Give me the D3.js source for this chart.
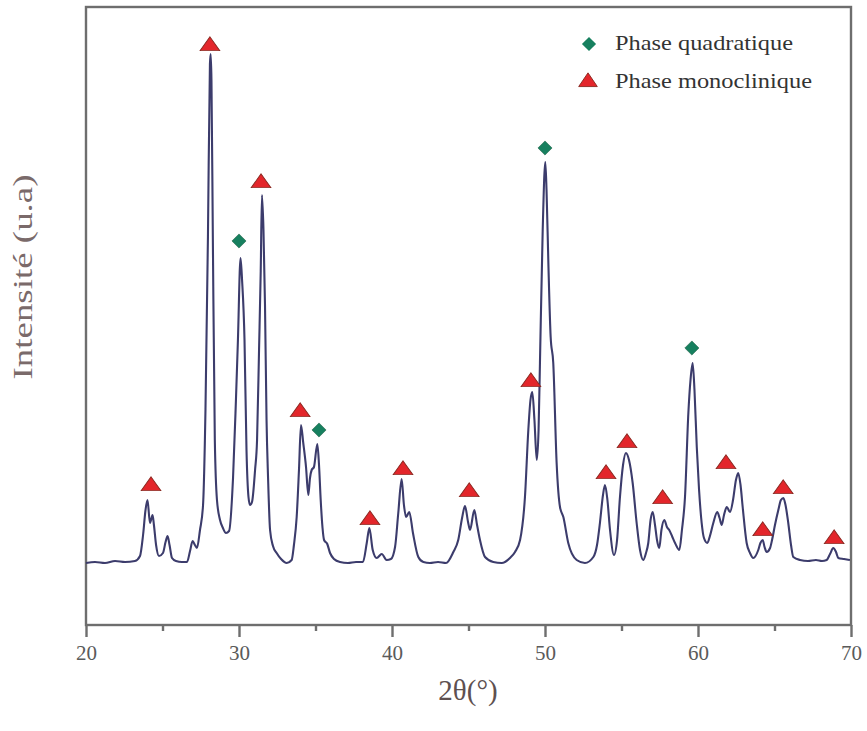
<!DOCTYPE html>
<html>
<head>
<meta charset="utf-8">
<script src="https://cdn.jsdelivr.net/npm/d3@7"></script>
<style>
html,body{margin:0;padding:0;background:#fff;}
svg{display:block;}
</style>
</head>
<body>
<svg id="chart" width="867" height="731"></svg>
<script>
// ---- data ----
const twoTheta = [20.00,20.59,21.24,21.90,22.55,23.20,23.53,23.73,23.89,24.02,24.18,24.35,24.44,24.58,24.77,25.03,25.20,25.33,25.46,25.62,25.88,26.27,26.60,26.80,26.97,27.12,27.25,27.45,27.65,27.81,27.97,28.10,28.15,28.20,28.29,28.42,28.56,28.76,28.95,29.15,29.35,29.61,29.80,29.93,30.10,30.20,30.36,30.49,30.62,30.72,30.85,31.05,31.18,31.31,31.42,31.50,31.60,31.70,31.80,31.90,32.03,32.22,32.46,32.75,33.12,33.44,33.59,33.77,33.92,34.05,34.20,34.38,34.53,34.64,34.75,34.90,35.12,35.23,35.34,35.46,35.56,35.77,35.95,36.21,36.60,37.12,37.65,38.10,38.35,38.52,38.74,39.00,39.33,39.65,39.93,40.20,40.41,40.63,40.78,40.92,41.13,41.37,41.72,42.05,42.48,43.01,43.53,44.01,44.33,44.58,44.77,44.97,45.10,45.38,45.56,45.75,46.08,46.62,47.17,47.71,48.04,48.37,48.69,48.91,49.05,49.17,49.31,49.46,49.58,49.67,49.85,50.02,50.10,50.22,50.37,50.54,50.76,50.98,51.20,51.52,52.07,52.61,53.16,53.40,53.59,53.79,53.92,54.08,54.25,54.51,54.71,54.90,55.10,55.29,55.49,55.73,55.99,56.21,56.42,56.60,56.75,56.90,57.04,57.19,57.32,57.47,57.61,57.80,57.97,58.12,58.30,58.50,58.78,58.95,59.15,59.37,59.51,59.65,59.77,59.92,60.07,60.24,60.39,60.61,60.78,61.00,61.26,61.41,61.55,61.70,61.88,62.09,62.29,62.48,62.63,62.78,62.92,63.18,63.40,63.61,63.94,64.08,64.23,64.35,64.49,64.71,64.84,65.03,65.25,65.42,65.58,65.72,65.90,66.08,66.23,66.67,67.19,67.71,68.10,68.41,68.63,68.84,69.02,69.17,69.54,69.93];
const intensity = [62,63,62,64,63,64,69,90,115,125,102,110,100,80,69,72,83,89,80,67,64,63,63,74,84,80,77,95,120,216,388,561,571,545,388,185,125,105,97,92,94,147,225,285,367,345,285,175,128,120,123,155,185,275,354,430,395,319,205,147,95,79,72,66,62,65,80,108,155,200,182,158,130,147,155,158,181,160,125,97,85,81,72,66,63,62,63,63,82,97,75,67,71,65,66,78,112,146,120,108,113,92,68,63,62,63,62,73,85,107,119,103,95,115,100,85,68,63,62,67,73,85,128,195,225,233,205,165,195,262,395,463,435,362,288,262,162,118,108,82,65,62,68,80,102,130,140,125,95,70,85,128,160,172,165,142,102,75,65,72,82,105,113,100,85,77,95,105,98,95,89,82,75,95,128,212,245,262,235,178,135,102,87,82,89,102,113,107,100,110,118,113,125,145,152,140,118,82,72,67,75,82,85,78,73,77,85,100,115,125,127,120,102,80,68,65,64,65,64,65,71,77,73,67,66,65];

const monoTheta = [24.25,28.10,31.44,34.0,38.56,40.72,45.05,49.08,53.99,55.36,57.69,61.83,64.23,65.57,68.9];
const monoLevel = [140,580,443,214,106,156,134,244,152,183,127,162,95,137,87];
const quadTheta = [30.0,35.23,50.0,59.6];
const quadLevel = [384,195,477,277];

const xMajorTicks = [20,30,40,50,60,70];
const xMinorTicks = [25,35,45,55,65];
const legendLabels = ["Phase quadratique","Phase monoclinique"];
const xTitle = "2θ(°)";
const yTitle = "Intensité (u.a)";

// ---- drawing ----
const svg = d3.select("#chart");
const x = d3.scaleLinear().domain([20,70]).range([86,851]);
const y = d3.scaleLinear().domain([0,618]).range([625,7]);

const serif = "Liberation Serif";
const frameColor = "#6e6e6e";

// frame
svg.append("rect")
  .attr("x", x(20)).attr("y", y(618))
  .attr("width", x(70)-x(20)).attr("height", y(0)-y(618))
  .attr("fill","none").attr("stroke",frameColor).attr("stroke-width",2.4);

// axes
const axMajor = d3.axisBottom(x).tickValues(xMajorTicks).tickSize(12).tickPadding(8).tickFormat(d3.format("d"));
const gMaj = svg.append("g").attr("transform",`translate(0,${y(0)})`).call(axMajor);
gMaj.attr("font-family",serif).attr("font-size",21);
gMaj.select(".domain").remove();
gMaj.selectAll(".tick line").attr("stroke",frameColor).attr("stroke-width",2.4);
gMaj.selectAll(".tick text").attr("fill","#5a5a5a");

const axMinor = d3.axisBottom(x).tickValues(xMinorTicks).tickSize(6).tickFormat("");
const gMin = svg.append("g").attr("transform",`translate(0,${y(0)})`).call(axMinor);
gMin.select(".domain").remove();
gMin.selectAll(".tick line").attr("stroke",frameColor).attr("stroke-width",2.4);

// curve
const pts = twoTheta.map((t,i)=>[t,intensity[i]]);
const line = d3.line().x(d=>x(d[0])).y(d=>y(d[1])).curve(d3.curveMonotoneX);
svg.append("path").datum(pts)
  .attr("d",line).attr("fill","none")
  .attr("stroke","#3c3c6c").attr("stroke-width",2.1).attr("stroke-linejoin","round");

// markers
const tri = d3.symbol().type(d3.symbolTriangle).size(150);
const dia = d3.symbol().type(d3.symbolSquare).size(100);
svg.append("g").selectAll("path").data(monoTheta.map((t,i)=>[t,monoLevel[i]])).join("path")
  .attr("d",tri)
  .attr("transform",d=>`translate(${x(d[0])},${y(d[1])+1}) scale(1.05,0.85)`)
  .attr("fill","#e3262b").attr("stroke","#8a2a22").attr("stroke-width",1);
svg.append("g").selectAll("path").data(quadTheta.map((t,i)=>[t,quadLevel[i]])).join("path")
  .attr("d",dia)
  .attr("transform",d=>`translate(${x(d[0])},${y(d[1])}) rotate(45)`)
  .attr("fill","#17805f").attr("stroke","#2a6a50").attr("stroke-width",0.6);

// legend
const leg = svg.append("g");
leg.append("path").attr("d",dia).attr("transform","translate(589,44) rotate(45)")
  .attr("fill","#17805f");
leg.append("path").attr("d",tri).attr("transform","translate(588,82) scale(1.0,0.85)")
  .attr("fill","#e3262b").attr("stroke","#8a2a22").attr("stroke-width",1);
const legWidths = [178,197];
leg.selectAll("text").data(legendLabels).join("text")
  .attr("x",615).attr("y",(d,i)=>50+i*38)
  .attr("font-family",serif).attr("font-size",21).attr("fill","#333")
  .attr("textLength",(d,i)=>legWidths[i]).attr("lengthAdjust","spacingAndGlyphs")
  .text(d=>d);

// titles
svg.append("text").attr("x",468).attr("y",700).attr("text-anchor","middle")
  .attr("font-family",serif).attr("font-size",29).attr("fill","#5e5050").text(xTitle);
svg.append("text").attr("transform","translate(32,277) rotate(-90)").attr("text-anchor","middle")
  .attr("font-family",serif).attr("font-size",27).attr("fill","#7a6a6a")
  .attr("textLength",205).attr("lengthAdjust","spacingAndGlyphs").text(yTitle);
</script>
</body>
</html>
